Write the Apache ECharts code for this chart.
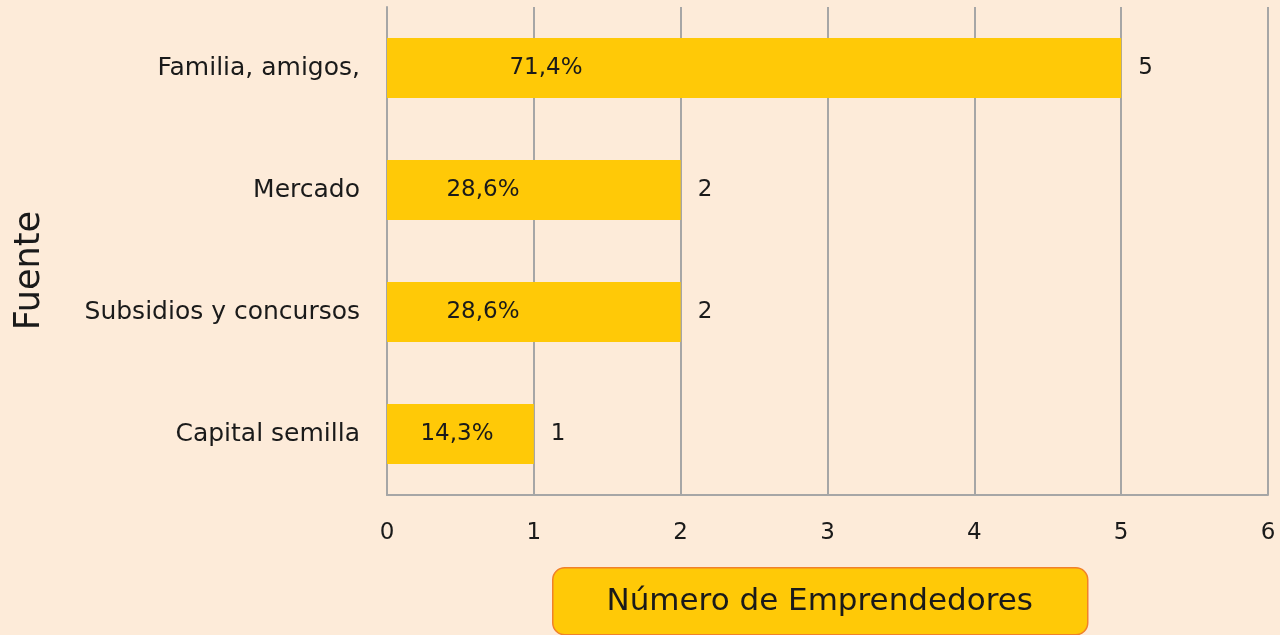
<!DOCTYPE html>
<html>
<head>
<meta charset="utf-8">
<script src="https://cdn.jsdelivr.net/npm/echarts@6/dist/echarts.min.js"></script>
<style>
  html, body { margin: 0; padding: 0; background: #fdebd9; }
  #chart { width: 1280px; height: 635px; }
</style>
</head>
<body>
<div id="chart"></div>
<script>
// fuentes de financiamiento
const categories = ['Familia, amigos,', 'Mercado', 'Subsidios y concursos', 'Capital semilla'];
const counts = [5, 2, 2, 1];
const percents = ['71,4%', '28,6%', '28,6%', '14,3%'];
const xTicks = [0, 1, 2, 3, 4, 5, 6];

// posicion horizontal de las etiquetas de porcentaje dentro de la barra (px desde la base)
const pctOffsets = [159, 96, 96, 70];

const FONT = 'DejaVu Sans';
const chart = echarts.init(document.getElementById('chart'));

chart.setOption({
  backgroundColor: '#fdebd9',
  animation: false,
  grid: { left: 387, right: 12, top: 7, bottom: 140 },
  xAxis: {
    type: 'value',
    min: xTicks[0],
    max: xTicks[xTicks.length - 1],
    interval: 1,
    axisLine: { show: true, lineStyle: { color: '#a6a6a6', width: 2 } },
    axisTick: { show: false },
    axisLabel: { color: '#1a1a1a', fontFamily: FONT, fontSize: 23, margin: 27 },
    splitLine: { show: true, lineStyle: { color: '#a6a6a6', width: 2 } }
  },
  yAxis: {
    type: 'category',
    data: categories,
    inverse: true,
    axisLine: { show: true, lineStyle: { color: '#a6a6a6', width: 2 } },
    axisTick: { show: false },
    axisLabel: { color: '#1a1a1a', fontFamily: FONT, fontSize: 25, margin: 27, padding: [4, 0, 0, 0] }
  },
  series: [
    {
      type: 'bar',
      data: counts,
      barWidth: 60,
      itemStyle: { color: '#ffc907' },
      label: {
        show: true,
        position: 'right',
        distance: 17,
        color: '#1a1a1a',
        fontFamily: FONT,
        fontSize: 23,
        padding: [5, 0, 0, 0]
      },
      z: 2
    },
    {
      type: 'bar',
      data: counts.map((v, i) => ({
        value: v,
        label: { position: [pctOffsets[i], '50%'] }
      })),
      barWidth: 60,
      barGap: '-100%',
      itemStyle: { color: 'rgba(0,0,0,0)' },
      label: {
        show: true,
        formatter: p => percents[p.dataIndex],
        align: 'center',
        verticalAlign: 'middle',
        color: '#1a1a1a',
        fontFamily: FONT,
        fontSize: 23,
        padding: [5, 0, 0, 0]
      },
      z: 3
    }
  ],
  graphic: [
    {
      type: 'text',
      left: 12,
      top: 211,
      rotation: Math.PI / 2,
      style: {
        text: 'Fuente',
        fill: '#1a1a1a',
        font: '35px "DejaVu Sans"'
      }
    },
    {
      type: 'group',
      left: 552,
      top: 567,
      children: [
        {
          type: 'rect',
          shape: { x: 0, y: 0, width: 535, height: 67, r: 12 },
          style: { fill: '#ffc907', stroke: '#f0812a', lineWidth: 1.5 }
        },
        {
          type: 'text',
          x: 267,
          y: 34,
          style: {
            text: 'Número de Emprendedores',
            fill: '#1a1a1a',
            font: '31px "DejaVu Sans"',
            align: 'center',
            verticalAlign: 'middle'
          }
        }
      ]
    }
  ]
});
</script>
</body>
</html>
